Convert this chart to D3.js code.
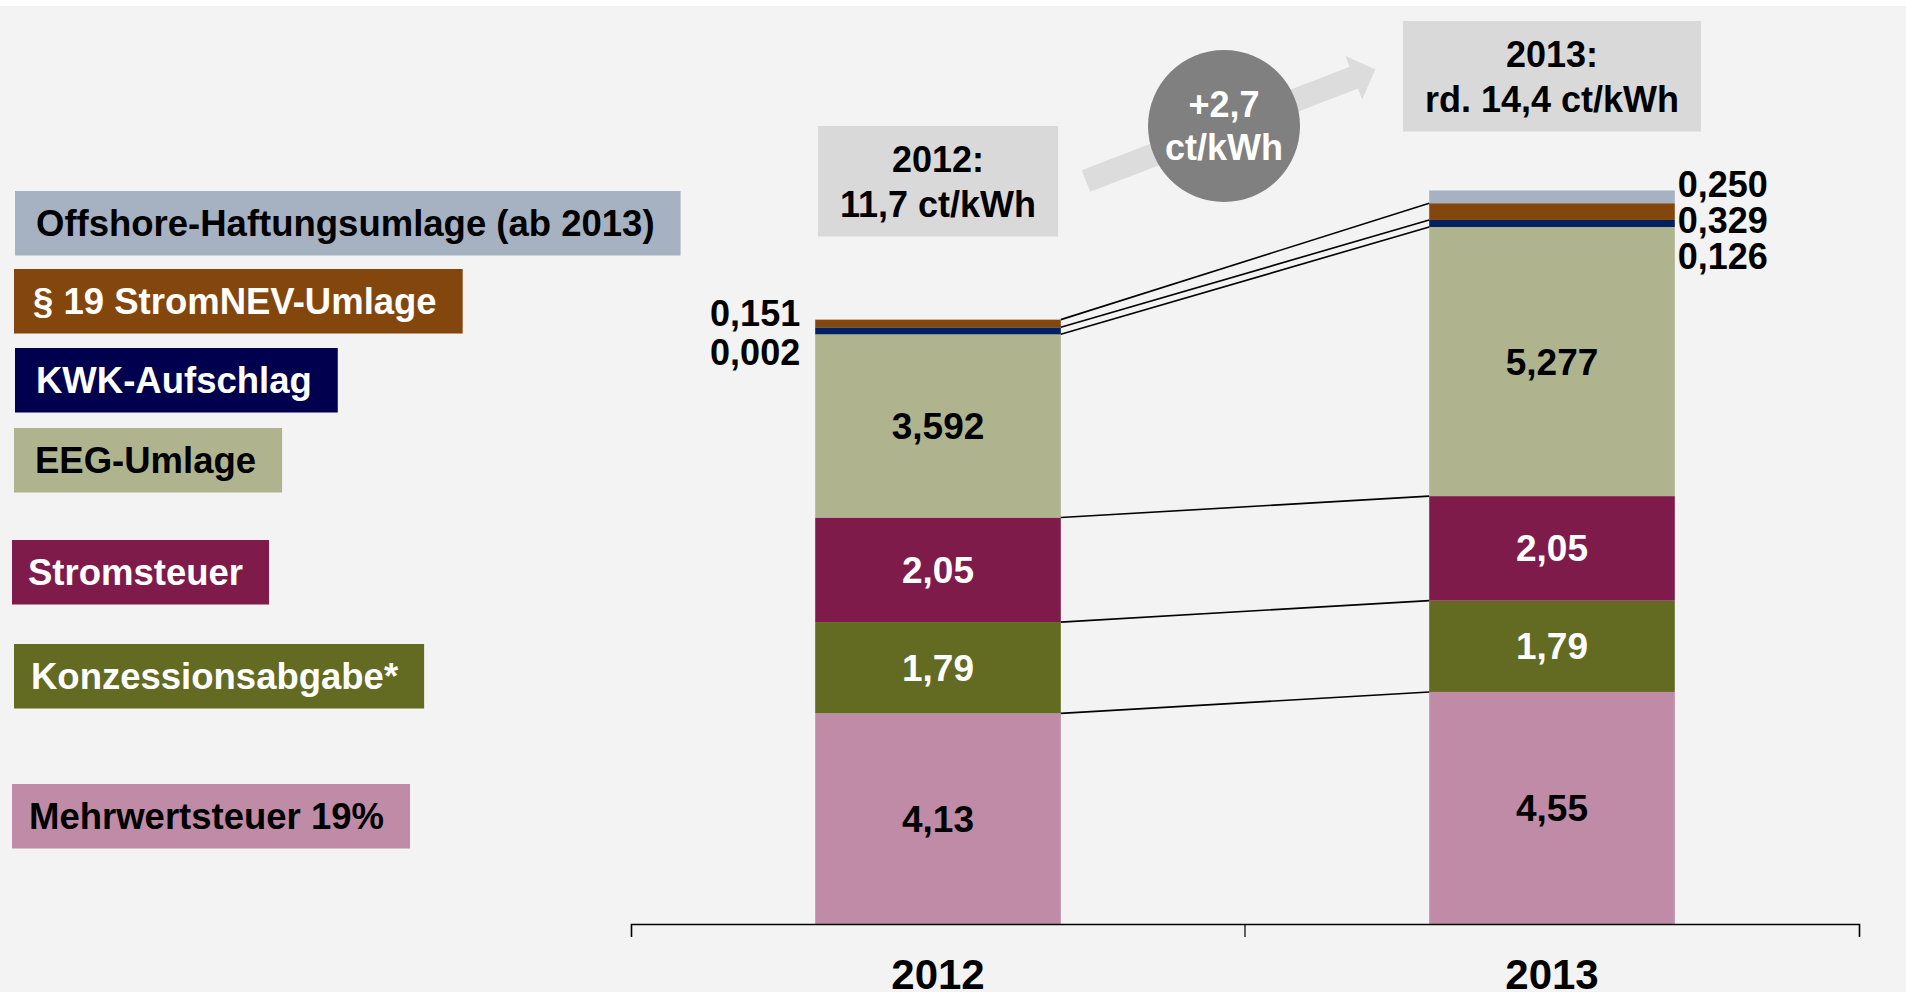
<!DOCTYPE html>
<html>
<head>
<meta charset="utf-8">
<script src="https://cdn.jsdelivr.net/npm/d3@7"></script>
<style>
  html, body { margin: 0; padding: 0; background: #ffffff; }
  svg { display: block; }
  text { font-family: "Liberation Sans", Arial, Helvetica, sans-serif; font-weight: bold; }
</style>
</head>
<body>
<svg id="chart" width="1906" height="992"></svg>
<script>
// ---------------- DATA ----------------
const years = ["2012", "2013"];
// stacked bottom -> top
const seriesNames = [
  "Mehrwertsteuer 19%",
  "Konzessionsabgabe*",
  "Stromsteuer",
  "EEG-Umlage",
  "KWK-Aufschlag",
  "§ 19 StromNEV-Umlage",
  "Offshore-Haftungsumlage (ab 2013)"
];
const values2012 = [4.13, 1.79, 2.05, 3.592, 0.002, 0.151, 0];
const values2013 = [4.55, 1.79, 2.05, 5.277, 0.126, 0.329, 0.25];
const labels2012 = ["4,13", "1,79", "2,05", "3,592", "0,002", "0,151", ""];
const labels2013 = ["4,55", "1,79", "2,05", "5,277", "0,126", "0,329", "0,250"];
const totalLabels = [["2012:", "11,7 ct/kWh"], ["2013:", "rd. 14,4 ct/kWh"]];
const changeLabel = ["+2,7", "ct/kWh"];

// ---------------- STYLE / LAYOUT ----------------
const barColors    = ["#c08ba6", "#626b21", "#7f1b4a", "#afb48f", "#00205f", "#83470e", "#a6b2c1"];
const legendColors = ["#c08ba6", "#626b21", "#7f1b4a", "#afb48f", "#00004f", "#83470e", "#a6b2c1"];
const textColors   = ["#000000", "#ffffff", "#ffffff", "#000000", "#ffffff", "#ffffff", "#000000"];
const insideCount = 4;            // first four series labelled inside the bar
const minBandPx = 7;              // minimum visible band thickness
// legend layout, ordered like seriesNames (bottom series first)
const legendTops  = [784, 644, 540, 428, 348, 269, 191];
const legendLefts = [12, 14, 12, 14, 15, 14, 15];
const legendPads  = [17, 17, 16, 21, 21, 19, 21];
const totalBoxTops = [126, 21];
const sideLabelSpacing = [39, 36];

const valuesByYear = [values2012, values2013];
const labelsByYear = [labels2012, labels2013];

const svg = d3.select("#chart");
const W = 1906, H = 992;

svg.append("rect").attr("x", 0).attr("y", 6).attr("width", W).attr("height", H - 6).attr("fill", "#f3f3f3");

// ---------------- SCALES ----------------
const x = d3.scaleBand().domain(years).range([631, 1859]).padding(0);
const y = d3.scaleLinear().domain([0, 15]).range([924, 159]);
const barW = x.bandwidth() * 0.4;
const barX = d => x(d) + (x.bandwidth() - barW) / 2;

// stacked segments (with minimum visible thickness)
const segs = years.map((yr, yi) => {
  let top = y(0);
  return valuesByYear[yi].map((v, si) => {
    const h = v > 0 ? Math.max(y(0) - y(v), minBandPx) : 0;
    const seg = { yr, yi, si, v, y1: top, y0: top - h, h, label: labelsByYear[yi][si] };
    top -= h;
    return seg;
  });
});

// ---------------- LEGEND ----------------
const legend = svg.append("g");
seriesNames.forEach((name, si) => {
  const g = legend.append("g").attr("transform", `translate(${legendLefts[si]},${legendTops[si]})`);
  const rect = g.append("rect").attr("height", 64.5).attr("fill", legendColors[si]);
  const t = g.append("text").attr("x", legendPads[si]).attr("y", 45).attr("font-size", 36.5)
    .attr("fill", textColors[si]).text(name);
  rect.attr("width", t.node().getComputedTextLength() + legendPads[si] + 26);
});

// ---------------- ARROW + CIRCLE ----------------
const arrowG = svg.append("g").attr("transform", "translate(1086,181) rotate(-21.1)");
arrowG.append("path")
  .attr("d", "M0,-11.6 L287,-11.6 L287,-23.4 L310,0 L287,23.4 L287,11.6 L0,11.6 Z")
  .attr("fill", "#dcdcdc");
svg.append("circle").attr("cx", 1224).attr("cy", 126).attr("r", 76).attr("fill", "#808080");
svg.append("text").attr("x", 1224).attr("y", 117).attr("text-anchor", "middle")
  .attr("font-size", 36).attr("fill", "#fff").text(changeLabel[0]);
svg.append("text").attr("x", 1224).attr("y", 160).attr("text-anchor", "middle")
  .attr("font-size", 36).attr("fill", "#fff").text(changeLabel[1]);

// ---------------- TOTAL BOXES ----------------
years.forEach((yr, yi) => {
  const cx = barX(yr) + barW / 2;
  const g = svg.append("g");
  const rect = g.append("rect").attr("y", totalBoxTops[yi]).attr("height", 110.5).attr("fill", "#d9d9d9");
  const t1 = g.append("text").attr("x", cx).attr("y", totalBoxTops[yi] + 46).attr("text-anchor", "middle")
    .attr("font-size", 36).attr("fill", "#000").text(totalLabels[yi][0]);
  const t2 = g.append("text").attr("x", cx).attr("y", totalBoxTops[yi] + 90.5).attr("text-anchor", "middle")
    .attr("font-size", 36).attr("fill", "#000").text(totalLabels[yi][1]);
  const w = Math.max(t1.node().getComputedTextLength(), t2.node().getComputedTextLength()) + 44;
  rect.attr("x", cx - w / 2).attr("width", w);
});

// ---------------- BARS ----------------
const barsG = svg.append("g");
segs.forEach(list => {
  barsG.selectAll(null).data(list.filter(s => s.h > 0)).enter().append("rect")
    .attr("x", s => barX(s.yr))
    .attr("y", s => s.y0)
    .attr("width", barW)
    .attr("height", s => s.h)
    .attr("fill", s => barColors[s.si]);
});

// connector lines between bars at segment tops
const connG = svg.append("g");
seriesNames.forEach((n, si) => {
  const a = segs[0][si], b = segs[1][si];
  if (a.h > 0 && b.h > 0) {
    connG.append("line")
      .attr("x1", barX(years[0]) + barW).attr("y1", a.y0)
      .attr("x2", barX(years[1])).attr("y2", b.y0)
      .attr("stroke", "#000").attr("stroke-width", 1.6);
  }
});

// inside labels
segs.forEach(list => {
  svg.append("g").selectAll(null).data(list.filter(s => s.si < insideCount)).enter().append("text")
    .attr("x", s => barX(s.yr) + barW / 2)
    .attr("y", s => (s.y0 + s.y1) / 2 + 13)
    .attr("text-anchor", "middle")
    .attr("font-size", 37)
    .attr("fill", s => textColors[s.si])
    .text(s => s.label);
});

// side labels for the thin top segments (listed top-down)
segs.forEach((list, yi) => {
  const small = list.filter(s => s.si >= insideCount && s.h > 0).reverse();
  const barTop = d3.min(list.filter(s => s.h > 0), s => s.y0);
  const left = yi === 0;
  svg.append("g").selectAll(null).data(small).enter().append("text")
    .attr("x", left ? barX(years[yi]) - 15 : barX(years[yi]) + barW + 3)
    .attr("y", (s, i) => barTop + 6.5 + i * sideLabelSpacing[yi])
    .attr("text-anchor", left ? "end" : "start")
    .attr("font-size", 36)
    .attr("fill", "#000")
    .text(s => s.label);
});

// ---------------- AXIS ----------------
const axisG = svg.append("g").attr("transform", `translate(0,${y(0)})`)
  .call(d3.axisBottom(x).tickSizeInner(0).tickSizeOuter(13).tickPadding(35));
axisG.select(".domain").attr("stroke", "#000").attr("stroke-width", 1.6);
axisG.selectAll(".tick text").attr("font-size", 42).attr("fill", "#000")
  .style("font-family", "'Liberation Sans', Arial, Helvetica, sans-serif").style("font-weight", "bold");
axisG.selectAll(".tick line").remove();
years.slice(1).forEach(yr => {
  axisG.append("line").attr("x1", x(yr)).attr("x2", x(yr)).attr("y1", 0).attr("y2", 13)
    .attr("stroke", "#000").attr("stroke-width", 1.2);
});
</script>
</body>
</html>
